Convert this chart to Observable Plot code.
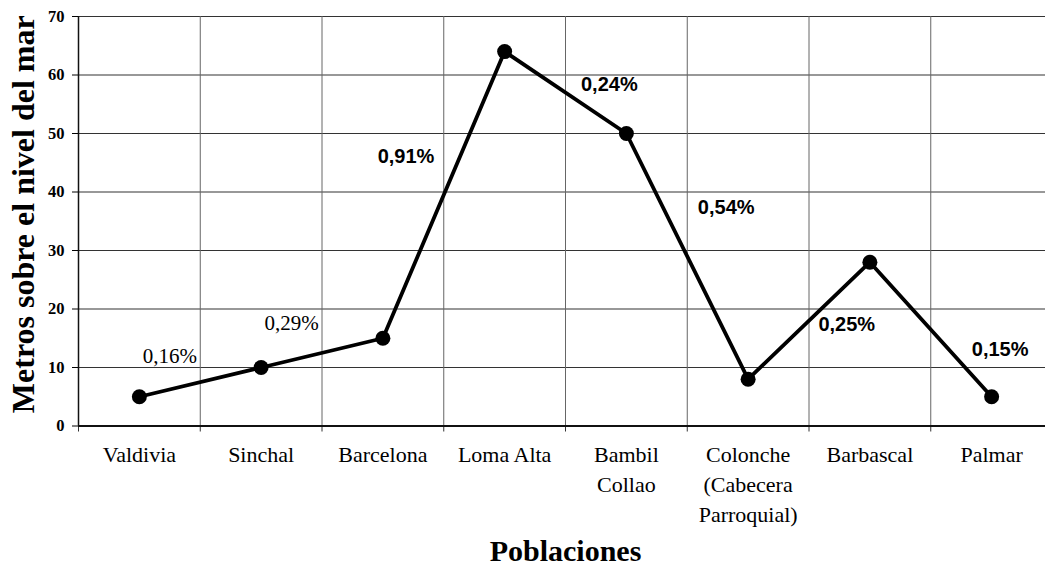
<!DOCTYPE html>
<html>
<head>
<meta charset="utf-8">
<script src="https://cdn.jsdelivr.net/npm/d3@7"></script>
<script src="https://cdn.jsdelivr.net/npm/@observablehq/plot@0.6"></script>
<style>
  html, body { margin: 0; padding: 0; background: #fff; }
  #chart svg { display: block; }
</style>
</head>
<body>
<div id="chart"></div>
<script>
// Categories (populations) and altitude values (m.s.n.m.)
const categories = ["Valdivia", "Sinchal", "Barcelona", "Loma Alta", "Bambil\nCollao", "Colonche\n(Cabecera\nParroquial)", "Barbascal", "Palmar"];
const altitudes = [5, 10, 15, 64, 50, 8, 28, 5];

// Slope labels between populations
const slopeLabels = ["0,16%", "0,29%", "0,91%", "0,24%", "0,54%", "0,25%", "0,15%"];
const slopeX = [0.25, 1.25, 2.19, 3.86, 4.82, 5.81, 7.07];
const slopeY = [12, 17.6, 46.1, 58.4, 37.4, 17.4, 13];

const yTicks = [0, 10, 20, 30, 40, 50, 60, 70];
const xTitle = "Poblaciones";
const yTitle = "Metros sobre el nivel del mar";

const points = categories.map((c, i) => ({i, name: c, value: altitudes[i]}));
const labels = slopeLabels.map((t, i) => ({t, x: slopeX[i], y: slopeY[i], serif: i < 2}));
const bounds = d3.range(categories.length + 1).map(i => i - 0.5);

const serif = "'Liberation Serif', 'Times New Roman', serif";
const sans = "'Liberation Sans', Arial, sans-serif";

const chart = Plot.plot({
  width: 1045,
  height: 566,
  marginLeft: 78,
  marginRight: -7,
  marginTop: 16,
  marginBottom: 140.5,
  style: {background: "#fff", color: "#000"},
  x: {type: "linear", domain: [-0.5, categories.length - 0.5], range: [78, 1052], axis: null},
  y: {type: "linear", domain: [0, 70], range: [425.5, 16], axis: null},
  marks: [
    // horizontal gridlines
    Plot.ruleY(yTicks, {stroke: "#333", strokeWidth: 1.2}),
    // vertical gridlines at category boundaries
    Plot.ruleX(bounds, {y1: 0, y2: 70, stroke: "#666", strokeWidth: 1}),
    // x tick marks below the axis
    Plot.ruleX(bounds, {y1: 0, y2: 0, insetBottom: -6, stroke: "#333", strokeWidth: 1}),
    // axes lines
    Plot.ruleY([0], {stroke: "#111", strokeWidth: 2}),
    Plot.ruleX([-0.5], {y1: 0, y2: 70, stroke: "#111", strokeWidth: 1.5}),
    // y axis ticks and labels
    Plot.axisY(yTicks, {
      anchor: "left", tickSize: 6, tickPadding: 8, label: null,
      fontSize: 16.5, fontWeight: "bold", fontFamily: serif
    }),
    // x category labels
    Plot.text(points, {
      x: "i", y: 0, text: "name", dy: 15, lineAnchor: "top", lineHeight: 1.36,
      fontSize: 22, fontFamily: serif, fill: "#000"
    }),
    // data line and points
    Plot.line(points, {x: "i", y: "value", stroke: "#000", strokeWidth: 3.8}),
    Plot.dot(points, {x: "i", y: "value", r: 7.5, fill: "#000", stroke: null}),
    // slope labels
    Plot.text(labels.filter(d => d.serif), {
      x: "x", y: "y", text: "t", fontSize: 21, fontFamily: serif, fill: "#000"
    }),
    Plot.text(labels.filter(d => !d.serif), {
      x: "x", y: "y", text: "t", fontSize: 20, fontWeight: "bold", fontFamily: sans, fill: "#000"
    }),
    // axis titles
    Plot.text([yTitle], {
      frameAnchor: "left", textAnchor: "middle", rotate: -90, dx: -55, dy: -7,
      fontSize: 32, fontWeight: "bold", fontFamily: serif, fill: "#000"
    }),
    Plot.text([xTitle], {
      frameAnchor: "bottom", dy: 135,
      fontSize: 30, fontWeight: "bold", fontFamily: serif, fill: "#000"
    })
  ]
});

document.getElementById("chart").appendChild(chart);
</script>
</body>
</html>
